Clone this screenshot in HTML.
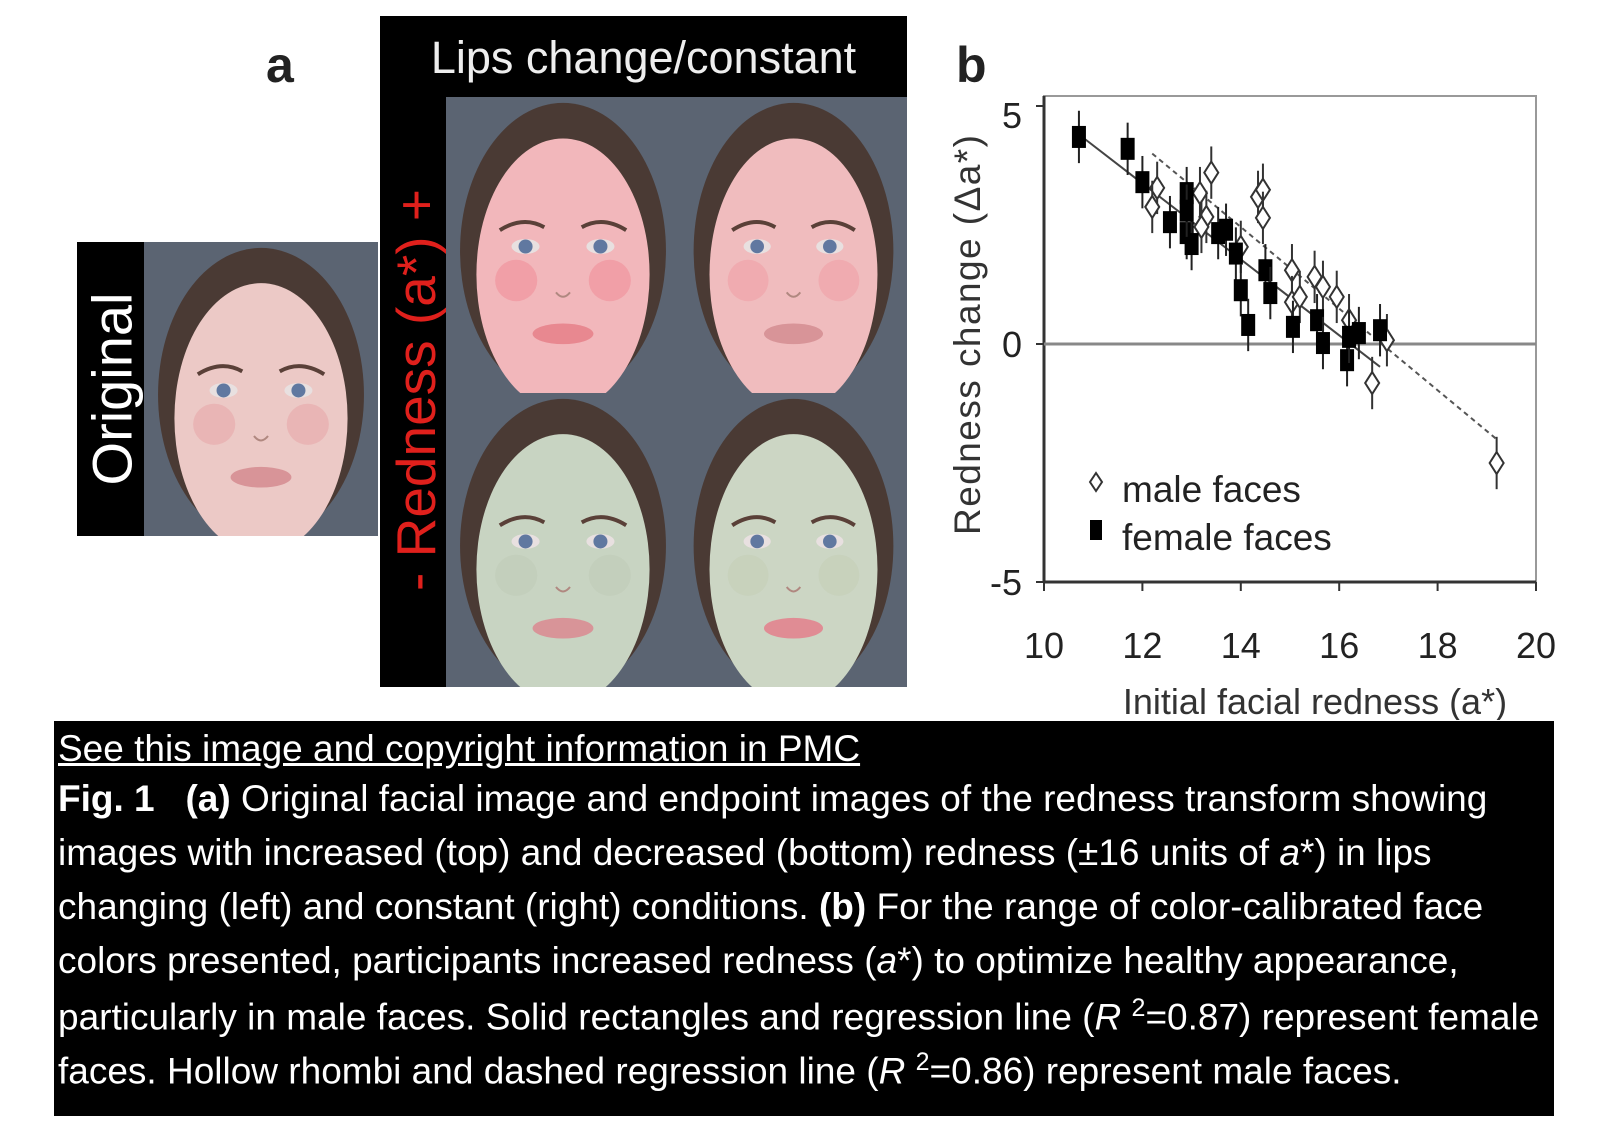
<!DOCTYPE html>
<html><head><meta charset="utf-8">
<style>
html,body{margin:0;padding:0;background:#fff;}
body{width:1600px;height:1138px;position:relative;overflow:hidden;font-family:"Liberation Sans",sans-serif;}
.abs{position:absolute;}
#caption{left:54px;top:721px;width:1508px;height:395px;background:#000;color:#fff;font-size:37px;}
#caption div{position:absolute;left:4px;white-space:nowrap;}
</style></head>
<body>
<div class="abs" style="left:266px;top:36px;font-size:50px;font-weight:bold;color:#222;">a</div>
<div class="abs" style="left:956px;top:36px;font-size:50px;font-weight:bold;color:#222;">b</div>

<div class="abs" style="left:77px;top:242px;width:67px;height:294px;background:#000;"></div>
<div class="abs" style="left:112px;top:389px;transform:translate(-50%,-50%) rotate(-90deg);color:#fff;font-size:56px;white-space:nowrap;">Original</div>
<svg class="abs" id="orig" style="left:144px;top:242px" width="234" height="294"></svg>

<div class="abs" style="left:380px;top:16px;width:527px;height:671px;background:#000;"></div>
<div class="abs" style="left:380px;top:32px;width:527px;text-align:center;color:#eee;font-size:45px;white-space:nowrap;">Lips change/constant</div>
<div class="abs" style="left:416px;top:390px;transform:translate(-50%,-50%) rotate(-90deg);color:#e0201c;font-size:55px;white-space:nowrap;">- Redness (a*) +</div>
<svg class="abs" id="f1" style="left:446px;top:97px" width="234" height="296"></svg>
<svg class="abs" id="f2" style="left:680px;top:97px" width="227" height="296"></svg>
<svg class="abs" id="f3" style="left:446px;top:393px" width="234" height="294"></svg>
<svg class="abs" id="f4" style="left:680px;top:393px" width="227" height="294"></svg>

<svg class="abs" id="chart" style="left:900px;top:80px" width="700" height="640"></svg>

<div class="abs" id="caption" style="width:1500px;">
<div style="top:7px;text-decoration:underline;">See this image and copyright information in PMC</div>
<div style="top:57px;"><b>Fig. 1 &nbsp; (a)</b> Original facial image and endpoint images of the redness transform showing</div>
<div style="top:111px;">images with increased (top) and decreased (bottom) redness (±16 units of <i>a</i>*) in lips</div>
<div style="top:165px;">changing (left) and constant (right) conditions. <b>(b)</b> For the range of color-calibrated face</div>
<div style="top:219px;">colors presented, participants increased redness (<i>a</i>*) to optimize healthy appearance,</div>
<div style="top:273px;">particularly in male faces. Solid rectangles and regression line (<i>R</i> <sup style="font-size:25px">2</sup>=0.87) represent female</div>
<div style="top:327px;">faces. Hollow rhombi and dashed regression line (<i>R</i> <sup style="font-size:25px">2</sup>=0.86) represent male faces.</div>
</div>

<script>
const NS='http://www.w3.org/2000/svg';
function mk(p,t,a){const e=document.createElementNS(NS,t);for(const k in a)e.setAttribute(k,a[k]);p.appendChild(e);return e;}
function face(id,skin,cheek,lip){
  const s=document.getElementById(id);const w=+s.getAttribute('width'),h=+s.getAttribute('height');const cx=w/2;
  const bg=mk(s,'rect',{x:0,y:0,width:w,height:h,fill:'#5b6472'});
  
  
  const hair=mk(s,'ellipse',{cx:cx,cy:h*0.52,rx:w*0.44,ry:h*0.5,fill:'#4a3a34'});
  
  
  const sk=mk(s,'ellipse',{cx:cx,cy:h*0.6,rx:w*0.37,ry:h*0.46,fill:skin});
  
  
  mk(s,'ellipse',{cx:cx-w*0.2,cy:h*0.62,rx:w*0.09,ry:h*0.07,fill:cheek,opacity:0.6});
  mk(s,'ellipse',{cx:cx+w*0.2,cy:h*0.62,rx:w*0.09,ry:h*0.07,fill:cheek,opacity:0.6});
  [-1,1].forEach(d=>{
    mk(s,'path',{d:`M${cx+d*w*0.08} ${h*0.44} Q${cx+d*w*0.17} ${h*0.40} ${cx+d*w*0.27} ${h*0.45}`,stroke:'#5a4038',fill:'none','stroke-width':4});
    mk(s,'ellipse',{cx:cx+d*w*0.16,cy:h*0.505,rx:w*0.06,ry:h*0.025,fill:'#e8e0e0'});
    mk(s,'circle',{cx:cx+d*w*0.16,cy:h*0.505,r:w*0.03,fill:'#6078a0'});
  });
  mk(s,'path',{d:`M${cx-w*0.03} ${h*0.66} Q${cx} ${h*0.69} ${cx+w*0.03} ${h*0.66}`,stroke:'#b08880',fill:'none','stroke-width':2});
  const l=mk(s,'ellipse',{cx:cx,cy:h*0.8,rx:w*0.13,ry:h*0.035,fill:lip});
  
  
}
face('orig','#ecc9c6','#e8a8aa','#d89498');
face('f1','#f2b7bb','#f0909a','#e88890');
face('f2','#f0bcbe','#f0a0a6','#d89498');
face('f3','#c8d4c2','#c0ccb8','#d89498');
face('f4','#ccd6c4','#c4ceb8','#e08c94');

// ---- chart data ----
const xTicks=[10,12,14,16,18,20];
const yTicks=[5,0,-5];
const femaleX=[10.71,11.7,12.0,12.56,12.9,12.9,13.0,12.9,13.54,13.7,13.9,14.0,14.15,14.5,14.6,15.06,15.55,15.67,16.16,16.4,16.2,16.83];
const femaleY=[4.35,4.1,3.4,2.56,3.17,2.33,2.1,2.8,2.33,2.4,1.9,1.13,0.4,1.55,1.07,0.36,0.5,0.02,-0.34,0.23,0.15,0.29];
const maleX=[12.3,12.2,13.17,13.4,13.3,13.2,14.0,14.35,14.45,14.45,15.04,15.04,15.2,15.5,15.67,15.95,16.2,16.67,16.97,19.2];
const maleY=[3.28,2.88,3.17,3.6,2.67,2.46,2.04,3.09,3.24,2.65,1.55,0.88,0.99,1.41,1.2,0.99,0.5,-0.82,0.08,-2.5];
const errHalf=[0.55];
const femaleFitX=[10.8,16.83];
const femaleFitY=[4.33,-0.48];
const maleFitX=[12.2,19.2];
const maleFitY=[4.0,-2.0];

const ox=900,oy=80;
const X=v=>1044+(v-10)*49.2-ox;
const Y=v=>344-v*47.6-oy;
const c=document.getElementById('chart');
const frame=mk(c,'rect',{x:X(10),y:96-oy,width:X(20)-X(10),height:Y(-5)-(96-oy),fill:'none',stroke:'#999','stroke-width':2});


const yax=mk(c,'line',{x1:X(10),x2:X(10),y1:96-oy,y2:Y(-5),stroke:'#333','stroke-width':3});


const xax=mk(c,'line',{x1:X(10),x2:X(20),y1:Y(-5),y2:Y(-5),stroke:'#333','stroke-width':3});


const zl=mk(c,'line',{x1:X(10),x2:X(20),y1:Y(0),y2:Y(0),stroke:'#888','stroke-width':3});


xTicks.forEach(t=>{
  mk(c,'line',{x1:X(t),x2:X(t),y1:Y(-5),y2:Y(-5)+9,stroke:'#333','stroke-width':2});
  const tx=mk(c,'text',{x:X(t),y:Y(-5)+76,'text-anchor':'middle','font-size':36,fill:'#222'});
  tx.textContent=t;
  
  
});
yTicks.forEach(t=>{
  mk(c,'line',{x1:X(10)-8,x2:X(10),y1:Y(t),y2:Y(t),stroke:'#333','stroke-width':2});
  const ty=mk(c,'text',{x:X(10)-22,y:(t===5?115-oy:Y(t))+13,'text-anchor':'end','font-size':36,fill:'#222'});
  ty.textContent=t;
  
  
});
const fl=mk(c,'line',{x1:X(femaleFitX[0]),y1:Y(femaleFitY[0]),x2:X(femaleFitX[1]),y2:Y(femaleFitY[1]),stroke:'#444','stroke-width':2});


const ml=mk(c,'line',{x1:X(maleFitX[0]),y1:Y(maleFitY[0]),x2:X(maleFitX[1]),y2:Y(maleFitY[1]),stroke:'#555','stroke-width':2,'stroke-dasharray':'5 4'});


maleX.forEach((x,i)=>{
  const px=X(x),py=Y(maleY[i]);
  mk(c,'line',{x1:px,x2:px,y1:Y(maleY[i]+errHalf[0]),y2:Y(maleY[i]-errHalf[0]),stroke:'#333','stroke-width':2});
  const d=mk(c,'path',{d:`M${px} ${py-11}L${px+7} ${py}L${px} ${py+11}L${px-7} ${py}Z`,fill:'#fff',stroke:'#333','stroke-width':2});
  
  
});
femaleX.forEach((x,i)=>{
  const px=X(x),py=Y(femaleY[i]);
  mk(c,'line',{x1:px,x2:px,y1:Y(femaleY[i]+errHalf[0]),y2:Y(femaleY[i]-errHalf[0]),stroke:'#222','stroke-width':2});
  const r=mk(c,'rect',{x:px-7,y:py-11,width:14,height:22,fill:'#000'});
  
  
});
const lm=mk(c,'path',{d:`M196 393L202 402L196 411L190 402Z`,fill:'#fff',stroke:'#333','stroke-width':2});


const lt1=mk(c,'text',{x:222,y:422,'font-size':37,fill:'#222'});lt1.textContent='male faces';


const lf=mk(c,'rect',{x:190,y:440,width:12,height:20,fill:'#000'});


const lt2=mk(c,'text',{x:222,y:470,'font-size':37,fill:'#222'});lt2.textContent='female faces';


const xt=mk(c,'text',{x:X(15)+25,y:634,'text-anchor':'middle','font-size':36,fill:'#333'});xt.textContent='Initial facial redness (a*)';


const yt=mk(c,'text',{x:0,y:0,'text-anchor':'middle','font-size':37,fill:'#333',transform:`translate(80,255) rotate(-90)`,textLength:400});yt.textContent='Redness change (Δa*)';


</script>
</body></html>
